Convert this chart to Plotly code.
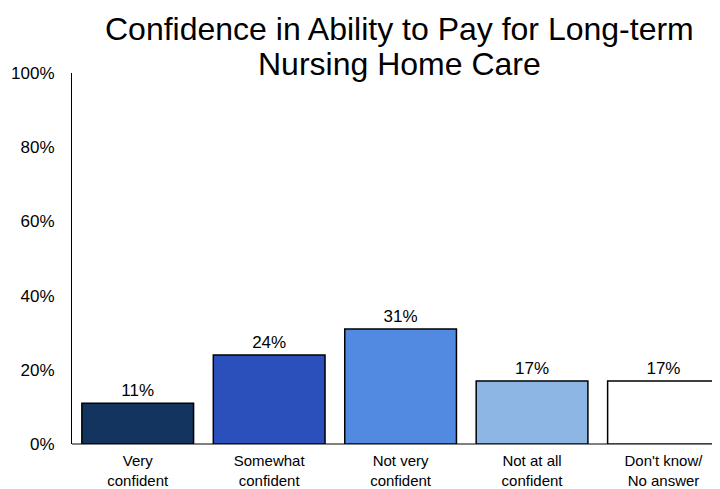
import plotly.graph_objects as go

categories = ["Very<br>confident", "Somewhat<br>confident", "Not very<br>confident",
              "Not at all<br>confident", "Don't know/<br>No answer"]
values = [11, 24, 31, 17, 17]
labels = ["11%", "24%", "31%", "17%", "17%"]
colors = ["#12345f", "#2b50bb", "#518ae0", "#8eb6e4", "#ffffff"]
tick_vals = [0, 20, 40, 60, 80, 100]
tick_text = ["0%", "20%", "40%", "60%", "80%", "100%"]
title_lines = ["Confidence in Ability to Pay for Long-term", "Nursing Home Care"]

font_family = "Liberation Sans, Arial, sans-serif"

fig = go.Figure(go.Bar(
    x=list(range(len(categories))), y=values,
    marker=dict(color=colors, line=dict(color="#000000", width=1.5)),
    width=0.85,
    text=labels, textposition="outside", cliponaxis=False,
    textfont=dict(size=17, color="#000000", family=font_family),
))

fig.update_layout(
    width=712, height=481,
    margin=dict(l=64, r=0, t=65, b=45),
    paper_bgcolor="white", plot_bgcolor="white",
    showlegend=False,
    font=dict(family=font_family, color="#000000"),
)
for line, yp in zip(title_lines, [1.1186, 1.0243]):
    fig.add_annotation(text=line, xref="paper", yref="paper", x=0.506, y=yp,
                       xanchor="center", yanchor="middle", showarrow=False,
                       font=dict(size=32, color="#000000", family=font_family))

fig.update_xaxes(
    range=[-0.5, 4.43], tickvals=list(range(len(categories))), ticktext=categories,
    tickfont=dict(size=15), showgrid=False, zeroline=False,
    showline=False, ticks="", ticklabelstandoff=6,
)
fig.update_yaxes(
    range=[0, 100], tickvals=tick_vals, ticktext=tick_text,
    tickfont=dict(size=17), showgrid=False,
    zeroline=True, zerolinecolor="#808080", zerolinewidth=2,
    showline=True, linecolor="#000000", linewidth=1, ticks="",
    ticklabelstandoff=13,
)
fig.write_html("out.html")
